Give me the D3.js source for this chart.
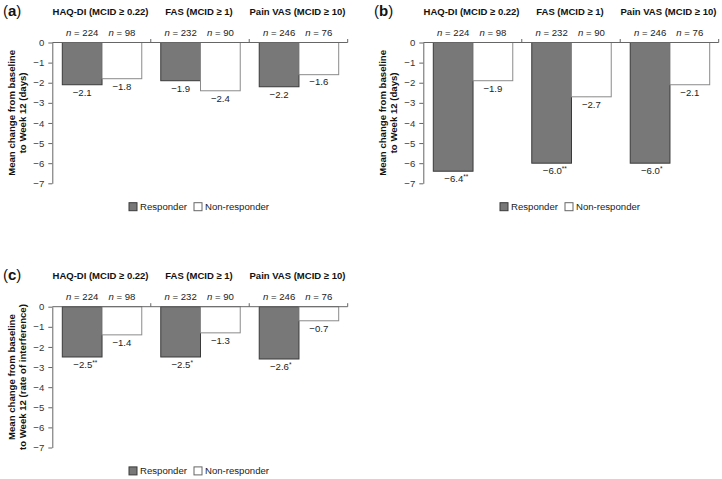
<!DOCTYPE html>
<html><head><meta charset="utf-8">
<script src="https://cdn.jsdelivr.net/npm/d3@7"></script>
<style>body{margin:0;background:#fff}svg{display:block;font-family:"Liberation Sans",Arial,Helvetica,sans-serif}</style>
</head><body><svg id="c" width="722" height="479"></svg>
<script>
const groups = ["HAQ-DI (MCID \u2265 0.22)", "FAS (MCID \u2265 1)", "Pain VAS (MCID \u2265 10)"];
const series = ["Responder", "Non-responder"];
const nResponder = [224, 232, 246];
const nNonResponder = [98, 90, 76];
const yTicks = [0, -1, -2, -3, -4, -5, -6, -7];
const panelLetters = ["a", "b", "c"];
const yTitles = [["Mean change from baseline", "to Week 12 (days)"],
                 ["Mean change from baseline", "to Week 12 (days)"],
                 ["Mean change from baseline", "to Week 12 (rate of interference)"]];
const respA = [-2.1, -1.9, -2.2];
const nonA  = [-1.8, -2.4, -1.6];
const sigA  = ["", "", ""];
const respB = [-6.4, -6.0, -6.0];
const nonB  = [-1.9, -2.7, -2.1];
const sigB  = ["**", "**", "*"];
const respC = [-2.5, -2.5, -2.6];
const nonC  = [-1.4, -1.3, -0.7];
const sigC  = ["**", "*", "*"];

const panels = [
  {letter: panelLetters[0], resp: respA, non: nonA, sig: sigA, title: yTitles[0], ox: 0, oy: 0},
  {letter: panelLetters[1], resp: respB, non: nonB, sig: sigB, title: yTitles[1], ox: 371, oy: 0},
  {letter: panelLetters[2], resp: respC, non: nonC, sig: sigC, title: yTitles[2], ox: 0, oy: 264.2}
];

const svg = d3.select("#c");
const fmt = v => (v < 0 ? "\u2212" : "") + Math.abs(v).toFixed(1);
const axisCol = "#666";
const FS = 9.6;

const x = d3.scaleBand().domain(groups).range([52.3, 347.7]).paddingInner(0).paddingOuter(0);
const xi = d3.scaleBand().domain(series).range([10, x.bandwidth() - 9]);
const y = d3.scaleLinear().domain([0, -7]).range([42.5, 183.3]);

panels.forEach(p => {
  const g = svg.append("g").attr("transform", `translate(${p.ox},${p.oy})`);
  // panel letter
  const lt = g.append("text").attr("x", 3).attr("y", 15.5).attr("font-size", 15).attr("fill", "#111");
  lt.append("tspan").text("(");
  lt.append("tspan").attr("font-weight", "bold").text(p.letter);
  lt.append("tspan").text(")");

  // group titles
  g.selectAll("text.gt").data(groups).enter().append("text")
    .attr("x", d => x(d) + x.bandwidth() / 2 - 1)
    .attr("y", 14.5).attr("text-anchor", "middle").attr("font-weight", "bold")
    .attr("font-size", 9.5).attr("fill", "#111").text(d => d);

  // bars data
  const rows = [];
  groups.forEach((gr, i) => {
    rows.push({g: gr, s: series[0], v: p.resp[i], n: nResponder[i], sig: p.sig[i]});
    rows.push({g: gr, s: series[1], v: p.non[i], n: nNonResponder[i], sig: ""});
  });

  g.selectAll("rect.bar").data(rows).enter().append("rect")
    .attr("x", d => x(d.g) + xi(d.s))
    .attr("y", y(0))
    .attr("width", xi.bandwidth())
    .attr("height", d => y(d.v) - y(0))
    .attr("fill", d => d.s === series[0] ? "#787878" : "#fff")
    .attr("stroke", d => d.s === series[0] ? "#3a3a3a" : "#8a8a8a")
    .attr("stroke-width", 1);

  // n labels
  const nl = g.selectAll("text.nl").data(rows).enter().append("text")
    .attr("x", d => x(d.g) + xi(d.s) + xi.bandwidth() / 2)
    .attr("y", 35.5).attr("text-anchor", "middle").attr("font-size", FS).attr("fill", "#222");
  nl.append("tspan").attr("font-style", "italic").text("n");
  nl.append("tspan").text(d => " = " + d.n);

  // value labels
  const vl = g.selectAll("text.vl").data(rows).enter().append("text")
    .attr("x", d => x(d.g) + xi(d.s) + xi.bandwidth() / 2 + (d.sig ? d.sig.length * 1.6 : 0))
    .attr("y", d => y(d.v) + 10.8).attr("text-anchor", "middle")
    .attr("font-size", FS).attr("fill", "#222");
  vl.append("tspan").text(d => fmt(d.v));
  vl.filter(d => d.sig).append("tspan").attr("font-size", 6.5).attr("dy", -3).text(d => d.sig);

  // y axis
  const ya = g.append("g").attr("transform", `translate(${x.range()[0]},0)`)
    .call(d3.axisLeft(y).tickValues(yTicks).tickSize(4).tickPadding(4).tickSizeOuter(0)
      .tickFormat(d => d === 0 ? "0" : "\u2212" + Math.abs(d)));
  ya.select(".domain").attr("stroke", axisCol);
  ya.selectAll(".tick line").attr("stroke", axisCol);
  ya.selectAll(".tick text").attr("font-size", FS).attr("fill", "#333")
    .attr("font-family", "Liberation Sans, Arial, sans-serif");

  // zero line with group separator ticks
  g.append("line").attr("x1", x.range()[0]).attr("x2", x.range()[1])
    .attr("y1", y(0)).attr("y2", y(0)).attr("stroke", axisCol);
  g.selectAll("line.sep").data(groups).enter().append("line")
    .attr("x1", d => x(d) + x.bandwidth()).attr("x2", d => x(d) + x.bandwidth())
    .attr("y1", y(0)).attr("y2", y(0) - 3.5).attr("stroke", axisCol);

  // y title
  const cy = (y(0) + y(-7)) / 2;
  p.title.forEach((t, i) => {
    g.append("text").attr("transform", `translate(${14.5 + i * 11.5},${cy}) rotate(-90)`)
      .attr("text-anchor", "middle").attr("font-weight", "bold").attr("font-size", FS)
      .attr("fill", "#111").text(t);
  });

  // legend
  const lg = g.append("g").attr("transform", `translate(0,206.7)`);
  const lx = [129, 194];
  series.forEach((s, i) => {
    lg.append("rect").attr("x", lx[i]).attr("y", -4).attr("width", 8).attr("height", 8)
      .attr("fill", i === 0 ? "#787878" : "#fff").attr("stroke", i === 0 ? "#3a3a3a" : "#666");
    lg.append("text").attr("x", lx[i] + 11).attr("y", 3.5).attr("font-size", FS)
      .attr("fill", "#222").text(s);
  });
});
</script></body></html>
